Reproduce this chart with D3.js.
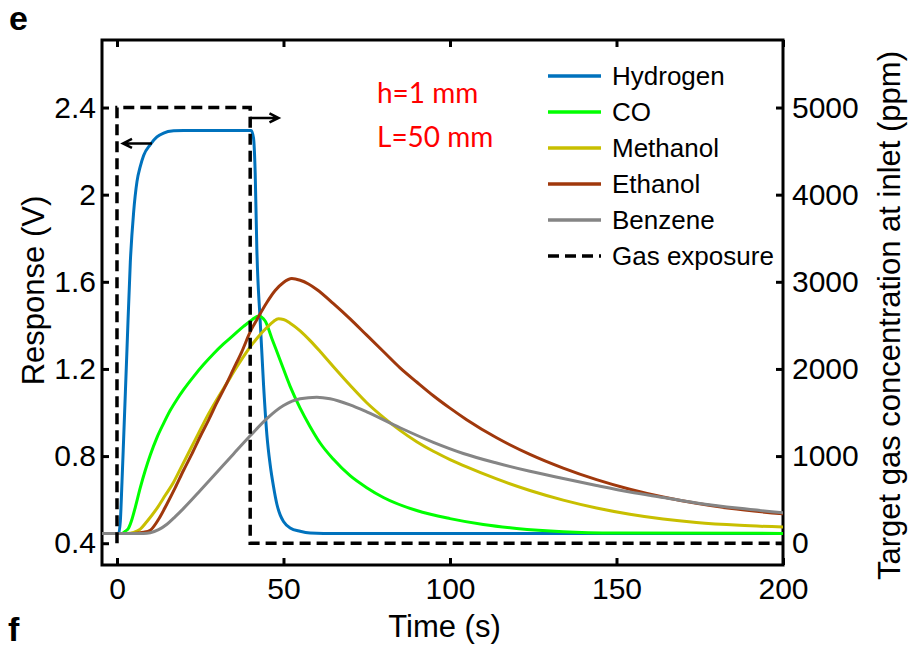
<!DOCTYPE html>
<html>
<head>
<meta charset="utf-8">
<script src="https://cdn.jsdelivr.net/npm/d3@7"></script>
<style>
    body { margin: 0; background: #fff; }
    svg text { font-family: "Liberation Sans", Arial, sans-serif; fill: #000; }
</style>
</head>
<body>
<div id="chart"></div>
<script>

// response curves, [time (s), response (V)]
const hydrogen = [[-4.5,0.445],[0.5,0.445],[1,0.5],[1.5,0.68],[2,0.88],[3,1.29],[4,1.69],[5,1.92],[6,2.06],[7,2.13],[8,2.18],
    [10,2.23],[12,2.265],[14,2.283],[17,2.293],[20,2.295],[40.3,2.295],[41,2.26],[41.5,2.1],[42,1.75],[43,1.42],[44,1.13],
    [45,0.9],[46,0.76],[47,0.66],[48,0.58],[49,0.53],[50,0.5],[52,0.47],[55,0.455],[58,0.447],[62,0.445],[200,0.445]];

const co = [[-4.5,0.445],[1.5,0.445],[2.5,0.455],[3.5,0.47],[4.5,0.51],[5.5,0.565],[7,0.655],[8.5,0.735],[10,0.805],
    [12,0.885],[14,0.95],[16,1.01],[18,1.06],[20,1.105],[23,1.165],[26,1.22],[29,1.27],[32,1.315],[35,1.355],[38,1.395],
    [40.5,1.425],[42.5,1.443],[44.5,1.42],[46.5,1.34],[49,1.24],[52,1.12],[55,1.02],[58,0.935],[61,0.86],[65,0.785],
    [70,0.71],[75,0.655],[80,0.61],[90,0.55],[100,0.513],[110,0.486],[120,0.468],[134,0.453],[150,0.447],[200,0.445]];

const methanol = [[-4.5,0.445],[3,0.445],[5,0.45],[7,0.465],[9,0.5],[12,0.56],[14.5,0.62],[17,0.68],[19.5,0.755],[22,0.83],
    [24.5,0.905],[27,0.98],[30,1.06],[33,1.135],[36,1.21],[39,1.28],[42,1.34],[45,1.39],[47,1.418],[48.5,1.43],[50,1.427],
    [52,1.41],[55,1.375],[58,1.33],[61,1.28],[65,1.21],[70,1.125],[75,1.045],[80,0.978],[85,0.918],[90,0.866],[95,0.822],
    [100,0.784],[105,0.75],[114,0.695],[124,0.642],[134,0.598],[144,0.562],[154,0.533],[164,0.511],[174,0.495],[187,0.482],[200,0.474]];

const ethanol = [[-4.5,0.445],[5,0.445],[8,0.45],[10,0.46],[12.5,0.51],[15,0.58],[17.5,0.655],[20,0.735],[22.5,0.81],
    [25,0.89],[27.5,0.965],[30,1.045],[32.5,1.12],[35,1.2],[37.5,1.28],[40,1.37],[42.5,1.44],[45,1.505],[47.5,1.56],
    [50,1.597],[52.5,1.615],[55,1.607],[57.5,1.59],[60,1.565],[65,1.5],[70,1.43],[75,1.355],[80,1.28],[85,1.205],
    [90,1.14],[95,1.077],[100,1.02],[105,0.967],[114,0.884],[124,0.808],[134,0.745],[144,0.692],[154,0.648],[164,0.612],
    [174,0.583],[184,0.56],[200,0.535]];

const benzene = [[-4.5,0.445],[8,0.445],[10,0.448],[12.5,0.462],[15,0.487],[17.5,0.522],[20,0.56],[25,0.642],[30,0.726],
    [35,0.81],[40,0.893],[45,0.972],[50,1.032],[55,1.063],[60,1.07],[64,1.063],[70,1.035],[75,1.003],[85,0.93],[95,0.863],
    [104,0.812],[114,0.768],[124,0.73],[134,0.697],[144,0.665],[154,0.635],[164,0.61],[174,0.585],[187,0.56],[200,0.54]];

// gas pulse at inlet, [time (s), ppm]
const exposure = [[0,0],[0,5000],[40,5000],[40,0],[200,0]];

const seriesNames = ["Hydrogen", "CO", "Methanol", "Ethanol", "Benzene"];
const seriesColors = ["#0072bd", "#00ff00", "#c8bf00", "#a0380c", "#858585"];

const timeTicks = [0, 50, 100, 150, 200];
const voltTicks = [0.4, 0.8, 1.2, 1.6, 2, 2.4];
const ppmTicks = [0, 1000, 2000, 3000, 4000, 5000];

// notes on the plot
const notes = ["h=1 mm", "L=50 mm"];


class ResponseVis {

    constructor(parentElement) {
        this.parentElement = parentElement;
        this.series = [hydrogen, co, methanol, ethanol, benzene].map((values, i) => ({
            name: seriesNames[i], color: seriesColors[i], values: values
        }));
        this.initVis();
    }

    initVis() {
        let vis = this;

        vis.margin = {top: 40, right: 128, bottom: 84, left: 102};
        vis.width = 911 - vis.margin.left - vis.margin.right;
        vis.height = 649 - vis.margin.top - vis.margin.bottom;

        vis.svgRoot = d3.select("#" + vis.parentElement).append("svg")
            .attr("width", 911)
            .attr("height", 649);

        vis.svg = vis.svgRoot.append("g")
            .attr("transform", `translate(${vis.margin.left}, ${vis.margin.top})`);

        // scales
        vis.x = d3.scaleLinear().domain([-4.5, 200]).range([0, vis.width]);
        vis.y = d3.scaleLinear().domain([0.3, 2.71]).range([vis.height, 0]);
        vis.yRight = d3.scaleLinear().domain([-250, 5775]).range([vis.height, 0]);

        vis.svg.append("clipPath").attr("id", "plot-clip")
            .append("rect").attr("width", vis.width).attr("height", vis.height);

        vis.drawAxes();
        vis.drawLines();
        vis.drawLegend();
        vis.drawNotes();
    }

    drawAxes() {
        let vis = this;

        let styleAxis = g => {
            g.select(".domain").remove();
            g.selectAll(".tick line").attr("stroke", "#000").attr("stroke-width", 3);
            g.selectAll(".tick text").style("font-size", "30px").attr("fill", "#000");
        };

        vis.svg.append("g")
            .attr("transform", `translate(0, ${vis.height})`)
            .call(d3.axisBottom(vis.x).tickValues(timeTicks).tickSize(-7).tickPadding(13))
            .call(styleAxis);

        vis.svg.append("g")
            .call(d3.axisTop(vis.x).tickValues(timeTicks).tickSize(-7).tickFormat(""))
            .call(styleAxis);

        vis.svg.append("g")
            .call(d3.axisLeft(vis.y).tickValues(voltTicks).tickSize(-7).tickPadding(6).tickFormat(d3.format("")))
            .call(styleAxis);

        vis.svg.append("g")
            .attr("transform", `translate(${vis.width}, 0)`)
            .call(d3.axisRight(vis.yRight).tickValues(ppmTicks).tickSize(-7).tickPadding(9).tickFormat(d3.format("d")))
            .call(styleAxis);

        // box
        vis.svg.append("rect")
            .attr("width", vis.width)
            .attr("height", vis.height)
            .attr("fill", "none")
            .attr("stroke", "#000")
            .attr("stroke-width", 3);

        // axis titles
        vis.svg.append("text")
            .attr("x", vis.width / 2 + 2)
            .attr("y", vis.height + 72)
            .attr("text-anchor", "middle")
            .style("font-size", "31px")
            .text("Time (s)");

        vis.svg.append("text")
            .attr("transform", `translate(${44 - vis.margin.left}, ${vis.height / 2 - 12}) rotate(-90)`)
            .attr("text-anchor", "middle")
            .style("font-size", "31px")
            .text("Response (V)");

        vis.svg.append("text")
            .attr("transform", `translate(${900 - vis.margin.left}, ${vis.height / 2 + 13}) rotate(-90)`)
            .attr("text-anchor", "middle")
            .style("font-size", "31px")
            .text("Target gas concentration at inlet (ppm)");

        // panel letters
        vis.svgRoot.append("text").attr("x", 9).attr("y", 30)
            .style("font-size", "34px").style("font-weight", "bold").text("e");
        vis.svgRoot.append("text").attr("x", 8).attr("y", 641)
            .style("font-size", "34px").style("font-weight", "bold").text("f");
    }

    drawLines() {
        let vis = this;

        let plot = vis.svg.append("g").attr("clip-path", "url(#plot-clip)");

        vis.line = d3.line()
            .x(d => vis.x(d[0]))
            .y(d => vis.y(d[1]))
            .curve(d3.curveMonotoneX);

        plot.selectAll(".response")
            .data(vis.series)
            .enter()
            .append("path")
            .attr("class", "response")
            .attr("d", d => vis.line(d.values))
            .attr("fill", "none")
            .attr("stroke", d => d.color)
            .attr("stroke-width", 3);

        let exposureLine = d3.line()
            .x(d => vis.x(d[0]))
            .y(d => vis.yRight(d[1]));

        plot.append("path")
            .attr("d", exposureLine(exposure))
            .attr("fill", "none")
            .attr("stroke", "#000")
            .attr("stroke-width", 3.5)
            .attr("stroke-dasharray", "11,6");

        // arrows pointing at the axis each curve belongs to
        vis.arrow(vis.x(10.5), vis.x(1.8), vis.y(2.235));
        vis.arrow(vis.x(40), vis.x(48.5), vis.yRight(4880));
    }

    arrow(x1, x2, yPos) {
        let vis = this;
        let dir = x2 > x1 ? 1 : -1;
        vis.svg.append("path")
            .attr("d", `M${x1},${yPos}H${x2}M${x2 - dir * 9},${yPos - 4.5}L${x2},${yPos}L${x2 - dir * 9},${yPos + 4.5}`)
            .attr("fill", "none")
            .attr("stroke", "#000")
            .attr("stroke-width", 2.5);
    }

    drawLegend() {
        let vis = this;

        let items = vis.series.map(s => ({name: s.name, color: s.color, dash: null}))
            .concat([{name: "Gas exposure", color: "#000", dash: "11,6"}]);

        let legend = vis.svg.append("g")
            .attr("transform", `translate(${548 - vis.margin.left}, ${76 - vis.margin.top})`);

        let rows = legend.selectAll(".legend-row")
            .data(items)
            .enter()
            .append("g")
            .attr("class", "legend-row")
            .attr("transform", (d, i) => `translate(0, ${i * 36})`);

        rows.append("line")
            .attr("x1", 0).attr("x2", 53)
            .attr("stroke", d => d.color)
            .attr("stroke-width", 3.5)
            .attr("stroke-dasharray", d => d.dash);

        rows.append("text")
            .attr("x", 64)
            .attr("y", 9)
            .style("font-size", "26px")
            .text(d => d.name);
    }

    drawNotes() {
        let vis = this;

        vis.svg.selectAll(".note")
            .data(notes)
            .enter()
            .append("text")
            .attr("class", "note")
            .attr("x", 377 - vis.margin.left)
            .attr("y", (d, i) => 103 - vis.margin.top + i * 44)
            .style("font-family", "Lato, 'Open Sans', sans-serif")
            .style("font-size", "28px")
            .style("fill", "#ff0000")
            .text(d => d);
    }
}

new ResponseVis("chart");

</script>
</body>
</html>
